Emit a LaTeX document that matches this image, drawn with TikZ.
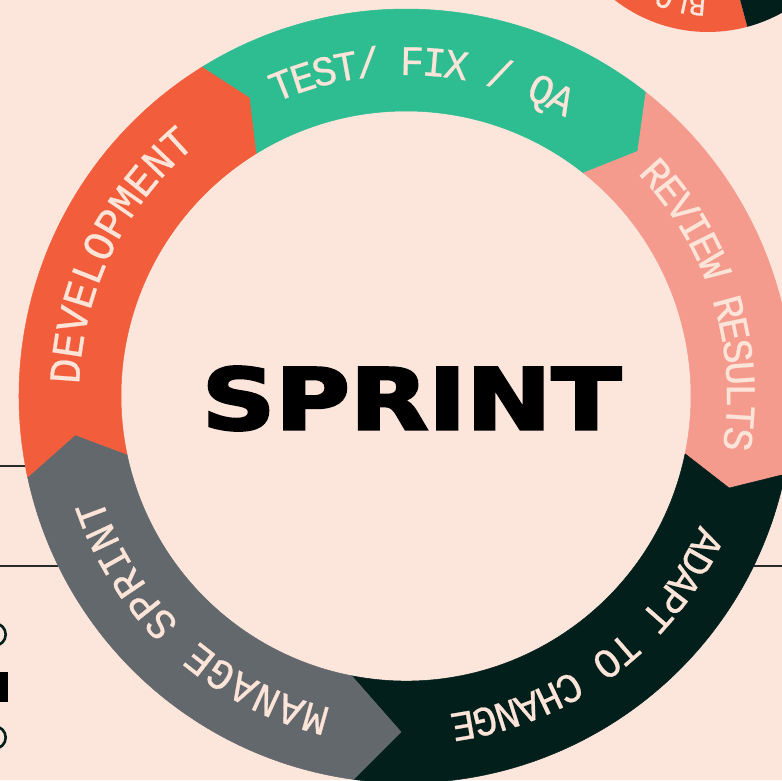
\documentclass[tikz,border=0pt]{standalone}
\usepackage{fontspec}
\usepackage{graphicx}
\newfontfamily\ringfont[FakeStretch=0.95, FakeBold=0.6]{Liberation Mono}
\newfontfamily\sprintfont[FakeBold=3]{DejaVu Sans Bold}
\definecolor{bg}{HTML}{FCE6DC}
\definecolor{segorange}{HTML}{F25E3C}
\definecolor{seggreen}{HTML}{2EBC91}
\definecolor{segpink}{HTML}{F59B8E}
\definecolor{segdark}{HTML}{031F1B}
\definecolor{seggray}{HTML}{63686C}
\definecolor{cream}{HTML}{FCE4D8}
\definecolor{linecol}{HTML}{2A2A2A}
\def\Ro{387}
\def\Ri{285}
% colour, A outer angle, A tip angle, A tip radius, A inner angle, B outer, B tip, B tip radius, B inner
\newcommand\ringseg[9]{%
  \fill[#1, draw=#1, line width=0.5pt, line join=round]
    (#2:\Ro) arc[start angle=#2, end angle=#6, radius=\Ro]
    -- (#7:#8) -- (#9:\Ri)
    arc[start angle=#9, end angle=#5, radius=\Ri]
    -- (#3:#4) -- cycle;}
% name, centre angle, pitch, baseline radius, count, font size, characters
\newcommand\arclabel[7]{%
  \foreach \ch [count=\i] in {#7} {
    \pgfmathsetmacro\ang{#2 + ((#5+1)/2 - \i)*#3}
    \node[lbl, font=\ringfont\fontsize{#6}{#6}\selectfont, rotate=\ang-90] (#1-\i) at (\ang:#4) {\ch};
  }}
\tikzset{
  lbl/.style={anchor=base, inner sep=0pt, text=cream},
  smalllbl/.style={anchor=base, inner sep=0pt, text=cream, font=\ringfont\fontsize{30}{30}\selectfont},
  hline/.style={draw=linecol, line width=1.1pt},
  dotring/.style={draw=segdark, line width=2.6pt}
}
\begin{document}
\begin{tikzpicture}[x=1pt,y=1pt]
\useasboundingbox (-406,-384) rectangle (376,396);
\fill[bg] (-406,-384) rectangle (376,396);
% thin rules
\draw[hline] (-406,-70) -- (376,-70);
\draw[hline] (-406,-170) -- (376,-170);
% left marks
\draw[dotring] (-411.5,-238.5) circle[radius=11.2];
\fill[black] (-406,-276) rectangle (-398,-306);
\draw[dotring] (-411.5,-341.5) circle[radius=11.2];
% second ring, top right
\begin{scope}
  \clip (-406,-384) rectangle (376,396);
  \begin{scope}[shift={(302,516)}]
    \fill[segorange] (-170:152) arc[start angle=-170, end angle=-75, radius=152]
      -- (-75:100) arc[start angle=-75, end angle=-170, radius=100] -- cycle;
    \fill[segdark] (-75:152) arc[start angle=-75, end angle=-5, radius=152]
      -- (-5:100) arc[start angle=-5, end angle=-75, radius=100] -- cycle;
    \foreach \ch/\a [count=\i] in {B/-94.9, L/-102.6, O/-110.3} {
      \node[smalllbl, rotate=\a-90] (blo-\i) at (\a:116) {\ch};
    }
  \end{scope}
\end{scope}
% main ring
\fill[bg] (0,0) circle[radius=\Ro];
\ringseg{segpink}{51.8}{46.7}{337}{51.65}{-11.66}{-15.9}{336}{-11.7}
\ringseg{segdark}{-11.66}{-15.9}{336}{-11.7}{-97.8}{-90.85}{336}{-101}
\ringseg{seggray}{-97.8}{-90.85}{336}{-101}{-167.9}{-173.3}{333}{-168.2}
\ringseg{segorange}{192.1}{186.7}{333}{191.8}{121.7}{117.6}{337}{121.6}
\ringseg{seggreen}{121.7}{117.6}{337}{121.6}{51.8}{46.7}{337}{51.65}
% labels
\arclabel{test}{87.05}{3.8}{321}{14}{42}{T,E,S,T,/, ,F,I,X, ,/, ,Q,A}
\arclabel{review}{17.15}{3.78}{321}{14}{42}{R,E,V,I,E,W, ,R,E,S,U,L,T,S}
\arclabel{adapt}{-53.05}{3.88}{321}{15}{42}{A,D,A,P,T, ,T,O, ,C,H,A,N,G,E}
\arclabel{manage}{-132.55}{4.475}{321}{13}{43}{M,A,N,A,G,E, ,S,P,R,I,N,T}
\arclabel{dev}{154}{4.36}{327}{11}{44}{D,E,V,E,L,O,P,M,E,N,T}
% centre word
\node[inner sep=0pt, text=black] (sprint) at (5.5,-2.5)
  {\resizebox{419pt}{63pt}{\sprintfont SPRINT}};
\end{tikzpicture}
\end{document}
